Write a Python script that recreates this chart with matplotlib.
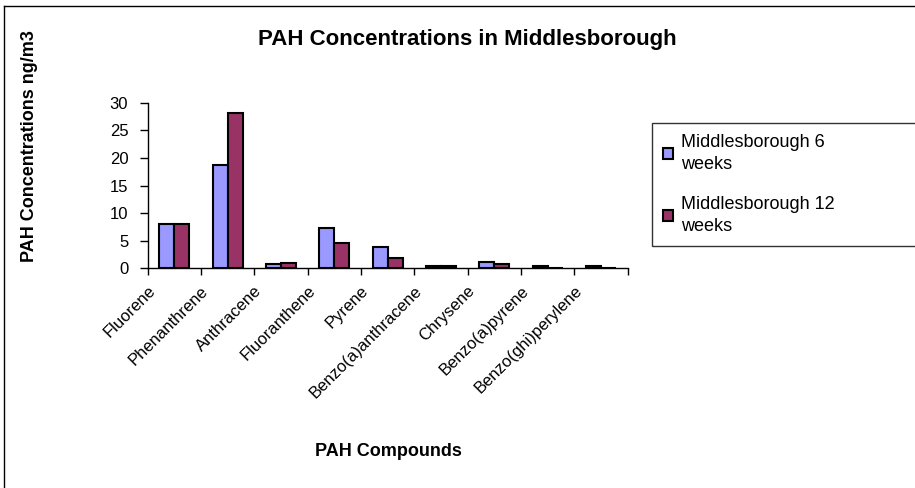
import numpy as np
import matplotlib.pyplot as plt
import matplotlib.transforms as mtransforms
from matplotlib.lines import Line2D

plt.rcParams['font.family'] = ['Liberation Sans', 'DejaVu Sans']

## PAH concentrations at Middlesborough, two sampling periods

compounds = ['Fluorene', 'Phenanthrene', 'Anthracene', 'Fluoranthene', 'Pyrene',
             'Benzo(a)anthracene', 'Chrysene', 'Benzo(a)pyrene', 'Benzo(ghi)perylene']
weeks_6 = [8.1, 18.7, 0.7, 7.3, 3.9, 0.4, 1.1, 0.4, 0.4]
weeks_12 = [8.1, 28.1, 1.0, 4.5, 1.9, 0.4, 0.7, 0.0, 0.0]
series_names = ['Middlesborough 6\nweeks', 'Middlesborough 12\nweeks']

fig = plt.figure(figsize=(9.15, 4.88), dpi=100)
ax = fig.add_axes([147.7/915, 1-268.3/488, 480/915, 165.6/488])

x = np.arange(len(compounds))
w = 0.28
ax.bar(x - w/2, weeks_6, w, color='#9999FF', edgecolor='black', linewidth=1.5, label=series_names[0])
ax.bar(x + w/2, weeks_12, w, color='#993366', edgecolor='black', linewidth=1.5, label=series_names[1])

ax.set_xlim(-0.5, len(compounds) - 0.5)
ax.set_ylim(0, 30)
ax.set_yticks(range(0, 31, 5))
ax.tick_params(axis='y', labelsize=12, length=6, width=1, pad=8)

# tick marks between the groups, labels under the groups
ax.set_xticks(np.arange(len(compounds) + 1) - 0.5)
ax.set_xticklabels([])
ax.tick_params(axis='x', which='major', length=5, width=1)
ax.set_xticks(x, minor=True)
ax.set_xticklabels(compounds, minor=True, rotation=45, ha='right',
                   rotation_mode='anchor', fontsize=12)
ax.tick_params(axis='x', which='minor', length=0, pad=2)
shift = mtransforms.ScaledTranslation(-0.27, -0.12, fig.dpi_scale_trans)
for lbl in ax.get_xticklabels(minor=True):
    lbl.set_transform(lbl.get_transform() + shift)

for s in ['top', 'right']:
    ax.spines[s].set_visible(False)
ax.spines['left'].set_linewidth(1)
ax.spines['bottom'].set_linewidth(1)

fig.text(467/915, 1-40/488, 'PAH Concentrations in Middlesborough',
         ha='center', va='center', fontsize=16, fontweight='bold')
fig.text(30/915, 1-146/488, 'PAH Concentrations ng/m3', rotation=90,
         ha='center', va='center', fontsize=13, fontweight='bold')
fig.text(388/915, 1-452/488, 'PAH Compounds', ha='center', va='center',
         fontsize=13, fontweight='bold')

leg = fig.legend(loc='upper left', bbox_to_anchor=(651.7/915, 1-123.3/488, 0.3, 0),
                 mode='expand', fontsize=13, frameon=True, fancybox=False,
                 handlelength=0.6, handleheight=0.6, handletextpad=0.4,
                 labelspacing=1.3, borderpad=0.6, borderaxespad=0)
for t in leg.get_texts():
    t.set_linespacing(1.35)
leg.get_frame().set_edgecolor('black')
leg.get_frame().set_linewidth(1)

# chart area border (top and left edges)
fig.add_artist(Line2D([4/915, 1.0], [1-6/488, 1-6/488], color='black', linewidth=1))
fig.add_artist(Line2D([4/915, 4/915], [0, 1-6/488], color='black', linewidth=1))

plt.savefig('out.png', dpi=100)
